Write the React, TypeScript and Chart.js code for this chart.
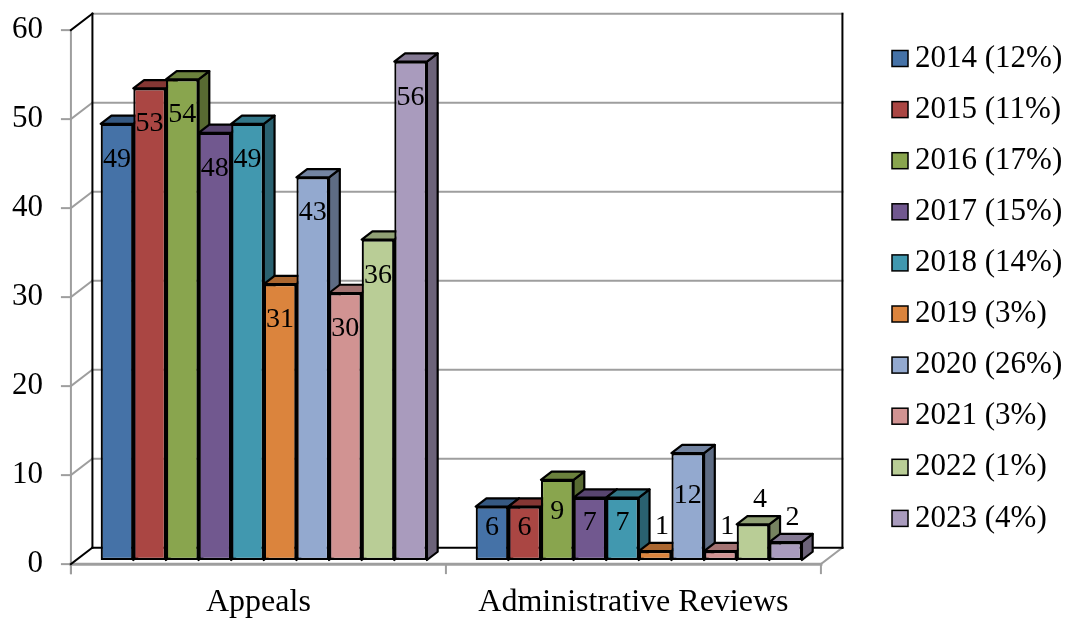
import React, { useEffect, useRef } from "react";
import { Chart, registerables } from "chart.js";

Chart.register(...registerables);

// ---- data ----
const categories = ["Appeals", "Administrative Reviews"];
const years = ["2014", "2015", "2016", "2017", "2018", "2019", "2020", "2021", "2022", "2023"];
const yearShares = ["12%", "11%", "17%", "15%", "14%", "3%", "26%", "3%", "1%", "4%"];
const appealsCounts = [49, 53, 54, 48, 49, 31, 43, 30, 36, 56];
const reviewCounts = [6, 6, 9, 7, 7, 1, 12, 1, 4, 2];
const yTicks = [0, 10, 20, 30, 40, 50, 60];

// ---- style ----
const yearColors = [
  "#4572A7", "#AA4643", "#89A54E", "#71588F", "#4198AF",
  "#DB843D", "#93A9CF", "#D19392", "#B9CD96", "#A99BBD",
];
const SERIF = '"Liberation Serif", "Times New Roman", Times, serif';
const GRID = "#9E9E9E";
const EDGE = "#000000";

// oblique projection of the depth axis (full floor depth)
const DEPTH_X = 21.5;
const DEPTH_Y = -16.5;
const FRONT = -0.25; // front edge of the floor, relative to bar fronts
const BACK = 0.75; // back wall, relative to bar fronts
const BAR_DEPTH = 0.5;

function shade(hex: string, f: number): string {
  const n = parseInt(hex.slice(1), 16);
  const r = Math.round(((n >> 16) & 255) * f);
  const g = Math.round(((n >> 8) & 255) * f);
  const b = Math.round((n & 255) * f);
  return `rgb(${r},${g},${b})`;
}

function line(ctx: CanvasRenderingContext2D, x1: number, y1: number, x2: number, y2: number) {
  ctx.beginPath();
  ctx.moveTo(x1, y1);
  ctx.lineTo(x2, y2);
  ctx.stroke();
}

// walls, floor, axes and their labels
const wallsPlugin = {
  id: "walls3d",
  beforeDatasetsDraw(chart: any) {
    const { ctx, chartArea: a } = chart;
    const xs = chart.scales.x;
    const ys = chart.scales.y;
    const fx = FRONT * DEPTH_X, fy = FRONT * DEPTH_Y;
    const bx = BACK * DEPTH_X, by = BACK * DEPTH_Y;
    const y0 = ys.getPixelForValue(0);
    const yTop = ys.getPixelForValue(ys.max);
    ctx.save();
    ctx.lineCap = "square";

    // gridlines on back wall and left side wall
    ctx.strokeStyle = GRID;
    ctx.lineWidth = 2;
    for (const v of yTicks) {
      if (v === 0) continue;
      const p = ys.getPixelForValue(v);
      line(ctx, a.left + bx, p + by, a.right + bx, p + by);
      if (v !== ys.max) line(ctx, a.left + fx, p + fy, a.left + bx, p + by);
    }

    // floor edges
    ctx.lineWidth = 3;
    line(ctx, a.left + fx, y0 + fy, a.right + fx, y0 + fy);
    ctx.lineWidth = 2;
    line(ctx, a.right + fx, y0 + fy, a.right + bx, y0 + by);

    // front value axis and ticks
    line(ctx, a.left + fx, yTop + fy, a.left + fx, y0 + fy + 9);
    for (const v of yTicks) {
      const p = ys.getPixelForValue(v) + fy;
      line(ctx, a.left + fx - 9, p, a.left + fx, p);
    }
    // category boundary ticks
    const c0 = xs.getPixelForValue(0);
    const c1 = xs.getPixelForValue(1);
    for (const bx0 of [a.left, (c0 + c1) / 2, a.right]) {
      line(ctx, bx0 + fx, y0 + fy, bx0 + fx, y0 + fy + 9);
    }

    // dark wall edges
    ctx.strokeStyle = EDGE;
    ctx.lineWidth = 2;
    line(ctx, a.left + bx, yTop + by, a.left + bx, y0 + by);
    line(ctx, a.right + bx, yTop + by, a.right + bx, y0 + by);
    line(ctx, a.left + bx, y0 + by, a.right + bx, y0 + by);
    line(ctx, a.left + fx, y0 + fy, a.left + bx, y0 + by);
    line(ctx, a.left + fx, yTop + fy, a.left + bx, yTop + by);

    // value labels
    ctx.fillStyle = "#000";
    ctx.font = `31px ${SERIF}`;
    ctx.textAlign = "right";
    ctx.textBaseline = "middle";
    for (const v of yTicks) {
      ctx.fillText(String(v), a.left + fx - 28, ys.getPixelForValue(v) + fy);
    }

    // category labels
    ctx.font = `32px ${SERIF}`;
    ctx.textAlign = "center";
    ctx.textBaseline = "alphabetic";
    categories.forEach((c, i) => {
      ctx.fillText(c, xs.getPixelForValue(i) + fx, y0 + fy + 47);
    });
    ctx.restore();
  },
};

// Bars are painted left to right (2014 first) so each bar hides the side
// face of its left neighbour: side + top faces, then the library's own front.
const barsPlugin = {
  id: "bars3d",
  beforeDatasetsDraw(chart: any) {
    const { ctx } = chart;
    const dx = BAR_DEPTH * DEPTH_X, dy = BAR_DEPTH * DEPTH_Y;
    ctx.save();
    chart.data.datasets.forEach((ds: any, i: number) => {
      const meta = chart.getDatasetMeta(i);
      const base = ds.backgroundColor as string;
      for (const el of meta.data) {
        const { x, y, base: b, width } = el.getProps(["x", "y", "base", "width"], true);
        const l = x - width / 2, r = x + width / 2;
        ctx.lineWidth = 2.2;
        ctx.strokeStyle = EDGE;
        ctx.lineJoin = "round";
        // side
        ctx.beginPath();
        ctx.moveTo(r, y);
        ctx.lineTo(r + dx, y + dy);
        ctx.lineTo(r + dx, b + dy);
        ctx.lineTo(r, b);
        ctx.closePath();
        ctx.fillStyle = shade(base, 0.64);
        ctx.fill();
        ctx.stroke();
        // top
        ctx.beginPath();
        ctx.moveTo(l, y);
        ctx.lineTo(r, y);
        ctx.lineTo(r + dx, y + dy);
        ctx.lineTo(l + dx, y + dy);
        ctx.closePath();
        ctx.fillStyle = shade(base, 0.78);
        ctx.fill();
        ctx.stroke();
        // front face
        el.draw(ctx, chart.chartArea);
      }
    });
    ctx.restore();
    return false;
  },
};

// value labels on the bars and the legend on the right
const labelsPlugin = {
  id: "barLabels",
  afterDraw(chart: any) {
    const { ctx } = chart;
    const ys = chart.scales.y;
    ctx.save();
    ctx.fillStyle = "#000";
    ctx.font = `28px ${SERIF}`;
    ctx.textAlign = "center";
    ctx.textBaseline = "middle";
    chart.data.datasets.forEach((ds: any, i: number) => {
      const meta = chart.getDatasetMeta(i);
      meta.data.forEach((el: any, j: number) => {
        const v = ds.data[j] as number;
        let cx = el.x;
        let cy: number;
        if (v < 5) {
          cx = el.x + 7;
          cy = ys.getPixelForValue(v + 2.8);
        } else if (v < 20) {
          cy = ys.getPixelForValue(v * 0.6);
        } else {
          cy = ys.getPixelForValue(v - 4);
        }
        ctx.fillText(String(v), cx, cy);
      });
    });

    // legend
    ctx.font = `31px ${SERIF}`;
    ctx.textAlign = "left";
    ctx.textBaseline = "middle";
    chart.data.datasets.forEach((ds: any, i: number) => {
      const cy = 58.5 + i * 51.1;
      ctx.fillStyle = ds.backgroundColor;
      ctx.fillRect(892, cy - 8, 16, 16);
      ctx.lineWidth = 1.5;
      ctx.strokeStyle = EDGE;
      ctx.strokeRect(892, cy - 8, 16, 16);
      ctx.fillStyle = "#000";
      ctx.fillText(ds.label, 915, cy);
    });
    ctx.restore();
  },
};

export default function App() {
  const ref = useRef<HTMLCanvasElement | null>(null);

  useEffect(() => {
    if (!ref.current) return;
    const chart = new Chart(ref.current, {
      type: "bar",
      data: {
        labels: categories,
        datasets: years.map((yr, i) => ({
          label: `${yr} (${yearShares[i]})`,
          data: [appealsCounts[i], reviewCounts[i]],
          backgroundColor: yearColors[i],
          borderColor: EDGE,
          borderWidth: 2.2,
          borderSkipped: false,
          categoryPercentage: 0.87,
          barPercentage: 1,
        })),
      },
      options: {
        animation: false,
        responsive: false,
        events: [],
        layout: { padding: { left: 76.3, right: 241.7, top: 26, bottom: 58 } },
        scales: {
          x: { display: false },
          y: { display: false, min: 0, max: 60 },
        },
        plugins: {
          legend: { display: false },
          tooltip: { enabled: false },
        },
      },
      plugins: [wallsPlugin, barsPlugin, labelsPlugin],
    });
    return () => chart.destroy();
  }, []);

  return (
    <div style={{ position: "fixed", left: 0, top: 0, width: 1068, height: 618, background: "#fff" }}>
      <canvas ref={ref} width={1068} height={618} />
    </div>
  );
}
